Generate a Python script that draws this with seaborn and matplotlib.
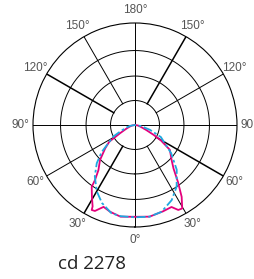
import numpy as np
import pandas as pd
import matplotlib
matplotlib.use("Agg")
import matplotlib.pyplot as plt
import seaborn as sns

# angle from nadir (deg) and relative intensity
mag_left_gamma = [90, 80, 72, 66, 61, 57, 52, 45, 39, 36, 35, 31, 27.5, 27, 25, 21, 16, 9, 0]
mag_left_r = [0.0, 0.03, 0.06, 0.10, 0.17, 0.30, 0.37, 0.485, 0.57, 0.667, 0.74, 0.82, 0.90, 0.935, 0.93, 0.86, 0.885, 0.91, 0.90]
mag_right_gamma = [0, 9, 18, 24, 27, 29.5, 33, 37, 41.5, 46, 54.5, 59, 62, 66, 72, 80, 90]
mag_right_r = [0.90, 0.91, 0.89, 0.88, 0.935, 0.94, 0.84, 0.70, 0.57, 0.50, 0.42, 0.30, 0.21, 0.12, 0.06, 0.03, 0.0]

cyan_left_gamma = [90, 80, 72, 66, 62, 51, 45, 38, 30, 23, 15, 9, 0]
cyan_left_r = [0.0, 0.05, 0.10, 0.16, 0.24, 0.42, 0.53, 0.64, 0.75, 0.83, 0.895, 0.905, 0.905]
cyan_right_gamma = [0, 9, 17, 26, 34, 43, 52, 65, 72, 80, 90]
cyan_right_r = [0.905, 0.91, 0.89, 0.82, 0.73, 0.60, 0.45, 0.28, 0.155, 0.06, 0.0]

angle_ticks = [180, 150, 120, 90, 60, 30, 0, -30, -60, -90, -120, -150]
angle_labels = ["180°", "150°", "120°", "90°", "60°", "30°", "0°", "30°", "60°", "90°", "120°", "150°"]
ring_radii = [0.24, 0.48, 0.73]
max_cd = "cd 2278"

rows = []
for g, r in zip(mag_left_gamma, mag_left_r):
    rows.append(("C0-C180", -g, r))
for g, r in zip(mag_right_gamma, mag_right_r):
    rows.append(("C0-C180", g, r))
for g, r in zip(cyan_left_gamma, cyan_left_r):
    rows.append(("C90-C270", -g, r))
for g, r in zip(cyan_right_gamma, cyan_right_r):
    rows.append(("C90-C270", g, r))
df = pd.DataFrame(rows, columns=["plane", "gamma", "r"])
df["theta"] = np.deg2rad(df["gamma"])

fig = plt.figure(figsize=(2.55, 2.79), dpi=100)
ax = fig.add_axes([0.1294, 0.1864, 0.8, 0.7312], projection="polar")
ax.set_theta_zero_location("S")
ax.set_ylim(0, 1)
ax.grid(False)
ax.spines["polar"].set_linewidth(0.8)
ax.spines["polar"].set_color("black")

# rings
t = np.linspace(0, 2 * np.pi, 200)
for rr in ring_radii:
    ax.plot(t, np.full_like(t, rr), color="black", lw=0.7)

# spokes
for a in [0, 90, 180, -90]:
    ax.plot([np.deg2rad(a)] * 2, [0, 1], color="black", lw=0.7)
for a in [30, -60, 120, -150]:
    ax.plot([np.deg2rad(a)] * 2, [ring_radii[0], 1], color="black", lw=0.7)
for a in [-30, 60, 150, -120]:
    ax.plot([np.deg2rad(a)] * 2, [ring_radii[0], 1], color="black", lw=1.1)

sns.lineplot(data=df, x="theta", y="r", hue="plane", style="plane",
             palette={"C0-C180": "#e4007c", "C90-C270": "#1ea8e0"},
             dashes={"C0-C180": "", "C90-C270": (5, 1.5, 1.5, 1.5)},
             sort=False, estimator=None, lw=1.3, legend=False, ax=ax)
ax.set_xlabel("")
ax.set_ylabel("")
ax.set_xticks([])
ax.set_yticks([])
ax.set_ylim(0, 1)

for a, lab in zip(angle_ticks, angle_labels):
    ax.text(np.deg2rad(a), 1.125, lab, ha="center", va="center",
            fontsize=8.5, color="#555555", family="Liberation Sans")

fig.text(92.5 / 255, 1 - 264 / 279, max_cd, ha="center", va="center",
         fontsize=13.5, color="#222222", family="Open Sans")

fig.savefig("out.png", dpi=100)
